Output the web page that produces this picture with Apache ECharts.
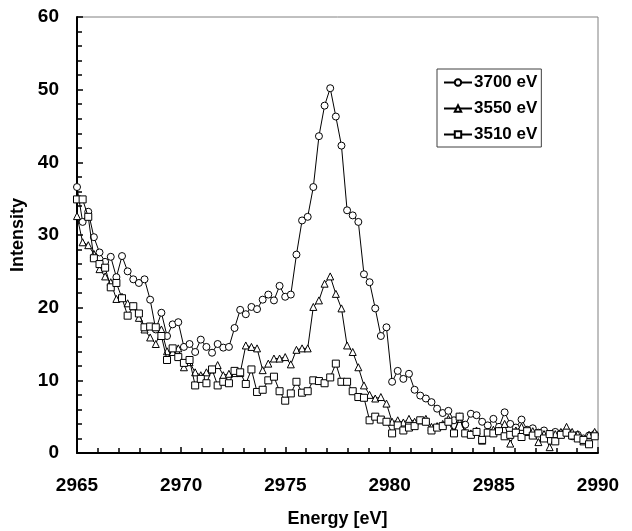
<!DOCTYPE html>
<html>
<head>
<meta charset="utf-8">
<script src="https://cdn.jsdelivr.net/npm/echarts@6/dist/echarts.min.js"></script>
<style>
  html, body { margin: 0; padding: 0; background: #fff; }
  #main { width: 632px; height: 531px; }
</style>
</head>
<body>
<div id="main"></div>
<script>
// energy axis (eV), shared by all three scans
const energy = [
    2965.00, 2965.27, 2965.54, 2965.81, 2966.08, 2966.35, 2966.62, 2966.89, 2967.16, 2967.43,
    2967.70, 2967.97, 2968.24, 2968.51, 2968.78, 2969.05, 2969.32, 2969.59, 2969.86, 2970.13,
    2970.40, 2970.67, 2970.94, 2971.21, 2971.48, 2971.75, 2972.02, 2972.29, 2972.56, 2972.83,
    2973.10, 2973.37, 2973.64, 2973.91, 2974.18, 2974.45, 2974.72, 2974.99, 2975.26, 2975.53,
    2975.80, 2976.07, 2976.34, 2976.61, 2976.88, 2977.15, 2977.42, 2977.69, 2977.96, 2978.23,
    2978.50, 2978.77, 2979.04, 2979.31, 2979.58, 2979.85, 2980.12, 2980.39, 2980.66, 2980.93,
    2981.20, 2981.47, 2981.74, 2982.01, 2982.28, 2982.55, 2982.82, 2983.09, 2983.36, 2983.63,
    2983.90, 2984.17, 2984.44, 2984.71, 2984.98, 2985.25, 2985.52, 2985.79, 2986.06, 2986.33,
    2986.60, 2986.87, 2987.14, 2987.41, 2987.68, 2987.95, 2988.22, 2988.49, 2988.76, 2989.03,
    2989.30, 2989.57, 2989.84
];

const s3700 = [
    36.6, 31.8, 33.2, 29.7, 27.6, 26.3, 27.0, 24.2, 27.1, 25.0,
    23.9, 23.4, 23.9, 21.1, 17.0, 19.3, 16.1, 17.7, 18.0, 14.6,
    15.0, 13.9, 15.6, 14.6, 13.8, 15.0, 14.5, 14.6, 17.2, 19.7,
    19.1, 20.1, 19.8, 21.1, 21.8, 21.0, 23.0, 21.5, 21.8, 27.3,
    32.0, 32.5, 36.6, 43.6, 47.8, 50.2, 46.3, 42.3, 33.4, 32.7,
    31.8, 24.6, 23.5, 19.9, 16.1, 17.3, 9.8, 11.3, 10.2, 10.9,
    8.7, 7.9, 7.5, 7.0, 6.1, 5.5, 5.8, 4.5, 5.0, 3.9,
    5.4, 5.2, 4.3, 3.8, 4.7, 3.6, 5.6, 4.0, 3.5, 4.6,
    3.2, 3.4, 2.8, 3.1, 2.6, 2.9, 2.7, 2.8, 2.3, 2.5,
    2.0, 2.4, 2.6
];

const s3550 = [
    32.6, 29.0, 28.6, 27.4, 25.3, 24.3, 23.5, 21.2, 21.5, 20.6,
    20.2, 18.6, 17.0, 15.9, 15.0, 17.0, 14.0, 13.9, 14.4, 11.8,
    12.5, 11.1, 10.7, 11.1, 11.5, 12.1, 10.7, 10.9, 11.0, 11.0,
    14.8, 14.6, 14.4, 11.4, 12.3, 13.0, 13.0, 13.2, 12.2, 14.2,
    14.4, 14.4, 20.1, 21.0, 23.3, 24.3, 21.9, 19.9, 14.8, 13.9,
    11.8, 9.3, 8.0, 7.5, 7.7, 6.8, 4.3, 4.5, 4.2, 4.7,
    4.3, 4.5, 4.7, 3.6, 3.7, 4.0, 4.7, 2.9, 4.7, 2.9,
    2.7, 3.1, 1.7, 2.9, 3.2, 3.1, 4.0, 1.3, 3.1, 3.6,
    2.9, 3.0, 1.5, 2.6, 0.8, 2.6, 2.9, 3.6, 2.9, 2.6,
    1.6, 2.5, 2.9
];

const s3510 = [
    34.9, 34.9, 32.5, 26.8, 26.0, 25.5, 22.8, 23.4, 21.3, 18.9,
    20.2, 19.2, 17.3, 17.4, 17.3, 16.1, 12.8, 14.4, 13.2, 12.4,
    12.8, 9.3, 10.2, 9.6, 11.5, 9.3, 9.8, 9.6, 11.3, 11.1,
    9.5, 11.5, 8.4, 8.7, 10.0, 10.5, 8.5, 7.2, 8.2, 9.8,
    8.3, 8.5, 10.0, 9.9, 9.6, 10.4, 12.3, 9.8, 9.8, 8.5,
    7.7, 7.6, 4.5, 5.0, 4.6, 4.3, 2.7, 3.8, 3.1, 3.5,
    3.7, 4.5, 4.3, 3.1, 3.5, 3.7, 4.3, 2.7, 5.0, 2.7,
    2.5, 2.9, 1.8, 2.8, 2.7, 3.0, 2.3, 2.5, 2.8, 2.2,
    3.0, 2.4, 2.7, 2.0, 2.6, 1.6, 2.5, 2.8, 2.4, 2.0,
    1.8, 1.2, 2.3
];

const seriesNames = ['3700 eV', '3550 eV', '3510 eV'];
const seriesSymbols = ['circle', 'triangle', 'rect'];
const seriesValues = [s3700, s3550, s3510];

function pairs(ys) {
    return ys.map(function (y, i) { return [energy[i], y]; });
}

var chartDom = document.getElementById('main');
var myChart = echarts.init(chartDom, null, { renderer: 'canvas' });

const font = 'Liberation Sans, Arial, sans-serif';

var option = {
    backgroundColor: '#fff',
    animation: false,
    grid: {
        left: 77,
        right: 34,
        top: 17,
        bottom: 78,
        outerBoundsMode: 'none',
        show: true,
        borderColor: '#808080',
        borderWidth: 1
    },
    legend: {
        orient: 'vertical',
        left: 437,
        top: 69,
        padding: [5, 4, 4, 6],
        itemGap: 9,
        itemWidth: 28,
        itemHeight: 8,
        borderColor: '#404040',
        borderWidth: 1,
        data: seriesNames,
        textStyle: {
            fontFamily: font,
            fontWeight: 'bold',
            fontSize: 17,
            color: '#000',
            padding: [0, 0, 0, -3]
        }
    },
    xAxis: {
        type: 'value',
        min: 2965,
        max: 2990,
        interval: 5,
        name: 'Energy [eV]',
        nameLocation: 'middle',
        nameGap: 57,
        nameTextStyle: { fontFamily: font, fontWeight: 'bold', fontSize: 18, color: '#000' },
        axisLine: { onZero: false, lineStyle: { color: '#000', width: 2 } },
        axisTick: { inside: true, length: 6, lineStyle: { color: '#000', width: 1.5 } },
        minorTick: { show: true, splitNumber: 5, length: 5, lineStyle: { color: '#000', width: 1.5 } },
        splitLine: { show: false },
        axisLabel: {
            margin: 23,
            fontFamily: font,
            fontWeight: 'bold',
            fontSize: 19,
            color: '#000',
            formatter: function (v) { return String(v); }
        }
    },
    yAxis: {
        type: 'value',
        min: 0,
        max: 60,
        interval: 10,
        name: 'Intensity',
        nameLocation: 'middle',
        nameGap: 50,
        nameTextStyle: { fontFamily: font, fontWeight: 'bold', fontSize: 18, color: '#000' },
        axisLine: { show: true, onZero: false, lineStyle: { color: '#000', width: 2 } },
        axisTick: { show: true, inside: true, length: 6, lineStyle: { color: '#000', width: 1.5 } },
        minorTick: { show: true, splitNumber: 5, length: 5, lineStyle: { color: '#000', width: 1.5 } },
        splitLine: { show: false },
        axisLabel: {
            margin: 18,
            fontFamily: font,
            fontWeight: 'bold',
            fontSize: 19,
            color: '#000'
        }
    },
    series: seriesNames.map(function (name, k) {
        return {
            name: name,
            type: 'line',
            data: pairs(seriesValues[k]),
            symbol: seriesSymbols[k],
            symbolSize: 7,
            showAllSymbol: true,
            color: '#000',
            lineStyle: { color: '#000', width: 1 },
            itemStyle: { color: '#fff', borderColor: '#000', borderWidth: 1 },
            z: 3 + k
        };
    })
};

myChart.setOption(option);

window.onresize = function () {
    myChart.resize();
};
</script>
</body>
</html>
